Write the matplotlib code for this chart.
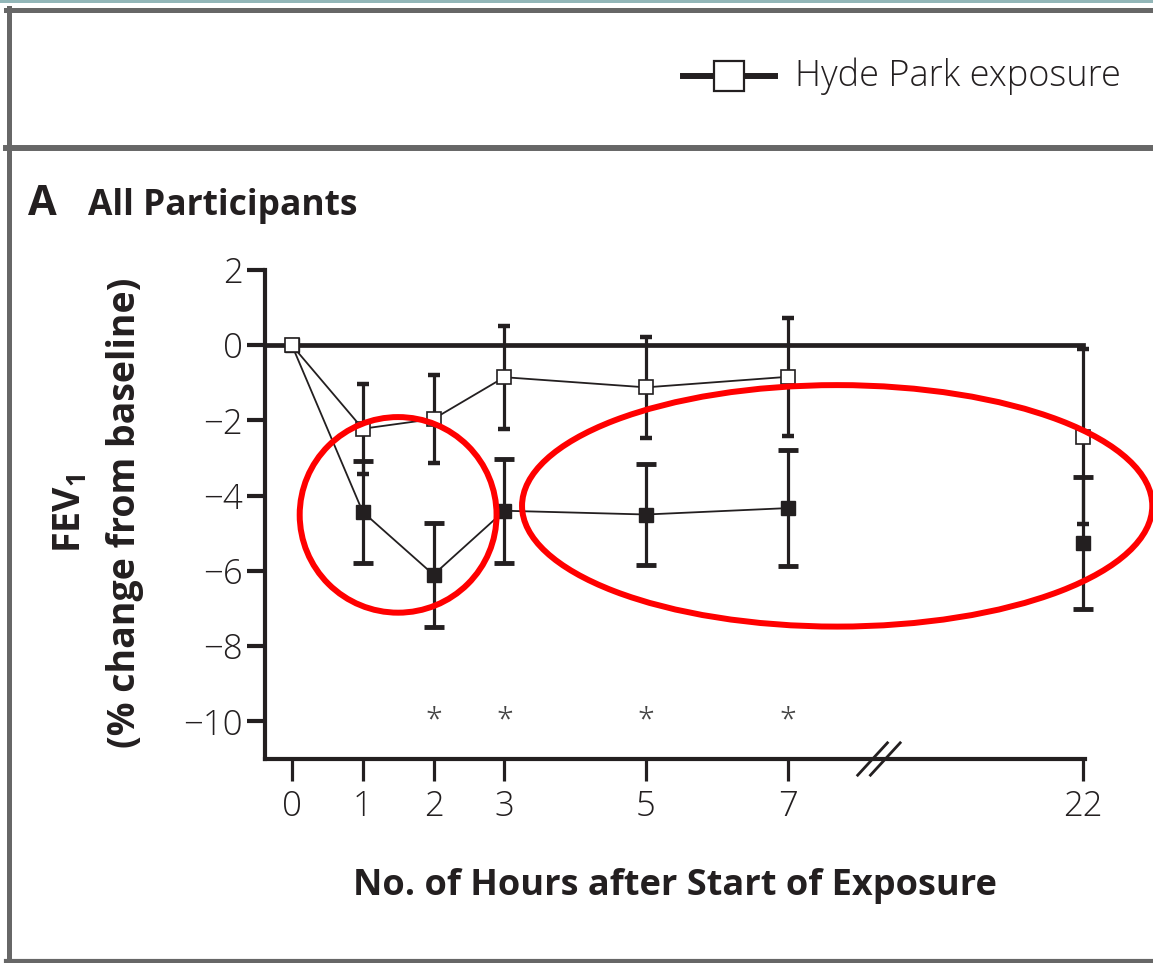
import matplotlib
matplotlib.use('Agg')
import matplotlib.pyplot as plt
from matplotlib.lines import Line2D
from matplotlib.patches import Ellipse, Rectangle

plt.rcParams['font.family'] = ['Open Sans', 'DejaVu Sans']
plt.rcParams['mathtext.default'] = 'regular'

hours = [0, 1, 2, 3, 5, 7, 22]
hour_labels = ['0', '1', '2', '3', '5', '7', '22']
hyde_mean = [0, -2.22, -1.96, -0.85, -1.12, -0.84, -2.43]
hyde_err = [0, 1.2, 1.17, 1.37, 1.35, 1.56, 2.33]
oxford_mean = [0, -4.43, -6.1, -4.4, -4.5, -4.33, -5.25]
oxford_err = [0, 1.35, 1.38, 1.38, 1.35, 1.55, 1.75]
star_hours = [2, 3, 5, 7]
yticks = [2, 0, -2, -4, -6, -8, -10]


# broken axis: hours past 7 are squeezed so 22 sits just right of the break
def xpos(h):
    return h if h <= 7 else 7 + (h - 7) * 0.278


x = [xpos(h) for h in hours]
dark = '#231f20'

fig = plt.figure(figsize=(11.53, 9.63), dpi=100)
ax = fig.add_axes([265 / 1153, 204 / 963, 820 / 1153, 489 / 963])

# zero reference line
ax.plot([-0.38, x[-1]], [0, 0], color=dark, lw=3.4, zorder=2, clip_on=False)

# connecting lines (only up to 7 h)
ax.plot(x[:6], hyde_mean[:6], color=dark, lw=1.3, zorder=3)
ax.plot(x[:6], oxford_mean[:6], color=dark, lw=1.3, zorder=3)

ax.errorbar(x[1:], oxford_mean[1:], yerr=oxford_err[1:], fmt='none', ecolor=dark,
            elinewidth=2.3, capsize=7, capthick=3.5, zorder=4, clip_on=False)
ax.errorbar(x[1:], hyde_mean[1:], yerr=hyde_err[1:], fmt='none', ecolor=dark,
            elinewidth=2.3, capsize=4, capthick=3.2, zorder=4, clip_on=False)

ax.plot(x, oxford_mean, 's', color=dark, ms=10.5, mec=dark, zorder=5, clip_on=False)
ax.plot(x, hyde_mean, 's', mfc='white', mec=dark, mew=1.2, ms=9.5, zorder=6, clip_on=False)

for h in star_hours:
    ax.text(xpos(h), -10.0, '*', ha='center', va='center', fontsize=22,
            fontweight='light', color='#444444')

ax.set_xlim(-0.38, x[-1] + 0.03)
ax.set_ylim(-11, 2)
ax.set_xticks(x)
ax.set_xticklabels(hour_labels, fontweight='light')
ax.set_yticks(yticks)
ax.set_yticklabels([str(v).replace('-', '\u2212') for v in yticks], fontweight='light')

for s in ['top', 'right']:
    ax.spines[s].set_visible(False)
for s in ['left', 'bottom']:
    ax.spines[s].set_linewidth(3)
    ax.spines[s].set_color(dark)
ax.tick_params(axis='y', length=13, width=3, pad=3, labelsize=25, colors=dark)
ax.tick_params(axis='x', length=16, width=2.3, pad=6, labelsize=25, colors=dark)

# axis break mark
for xc in [8.2, 8.38]:
    ax.plot([xc - 0.21, xc + 0.21], [-11.43, -10.57], color=dark, lw=2, clip_on=False, zorder=6)

# red annotation circles
ax.add_patch(Ellipse((1.5, -4.51), 2.78, 5.2, fill=False, ec='red', lw=4.3, clip_on=False, zorder=7))
ax.add_patch(Ellipse((7.7, -4.27), 8.9, 6.42, fill=False, ec='red', lw=4.3, clip_on=False, zorder=7))

# labels
fig.text(71 / 1153, 1 - 513 / 963, 'FEV$_1$', rotation=90, ha='center', va='center',
         fontsize=27, fontweight='bold', color=dark)
fig.text(125 / 1153, 1 - 513 / 963, '(% change from baseline)', rotation=90, ha='center',
         va='center', fontsize=27, fontweight='bold', color=dark)
fig.text(675 / 1153, 1 - 895 / 963, 'No. of Hours after Start of Exposure', ha='center',
         va='baseline', fontsize=26, fontweight='bold', color=dark)
fig.text(28 / 1153, 1 - 215 / 963, 'A', ha='left', va='baseline', fontsize=30,
         fontweight='bold', color=dark)
fig.text(88 / 1153, 1 - 215 / 963, 'All Participants', ha='left', va='baseline',
         fontsize=25.5, fontweight='bold', color=dark)

# legend in the top box
fig.add_artist(Line2D([683 / 1153, 775 / 1153], [1 - 76 / 963] * 2, color=dark, lw=4.3))
fig.add_artist(Line2D([729 / 1153], [1 - 76 / 963], marker='s', ms=22, mfc='white',
                      mec=dark, mew=1.6, lw=0))
fig.text(795 / 1153, 1 - 76 / 963, 'Hyde Park exposure', ha='left', va='center',
         fontsize=26, fontweight='light', color=dark)

# frame around the figure panel
gray = '#676767'
fig.add_artist(Rectangle((0, 1 - 3 / 963), 1, 3 / 963, color='#92b6b8', lw=0))
fig.add_artist(Line2D([6 / 1153, 1], [1 - 10.5 / 963] * 2, color=gray, lw=3.6))
fig.add_artist(Line2D([8.5 / 1153] * 2, [0, 1 - 8 / 963], color=gray, lw=3.6))
fig.add_artist(Line2D([6 / 1153, 1], [1 - 148.5 / 963] * 2, color=gray, lw=4.3))
fig.add_artist(Line2D([6 / 1153, 1], [2 / 963] * 2, color=gray, lw=3))

fig.savefig('out.png', dpi=100)
